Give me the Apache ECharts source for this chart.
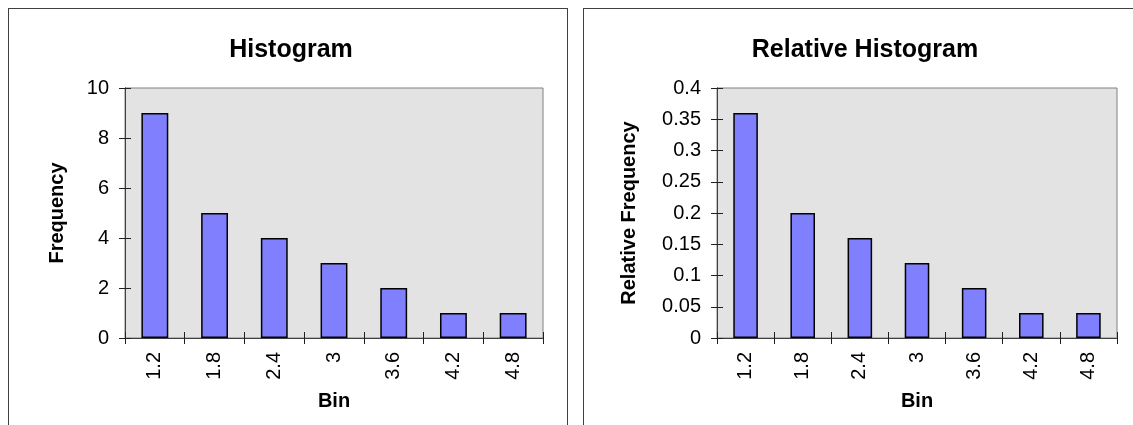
<!DOCTYPE html>
<html>
<head>
<meta charset="utf-8">
<script src="https://cdn.jsdelivr.net/npm/echarts@6/dist/echarts.min.js"></script>
<style>
  html, body { margin: 0; padding: 0; background: #ffffff; }
  #wrap { position: relative; width: 1133px; height: 425px; overflow: hidden; }
  .box { position: absolute; border: 1px solid #404040; box-sizing: border-box; }
  #chart { position: absolute; left: 0; top: 0; width: 1133px; height: 425px; }
</style>
</head>
<body>
<div id="wrap">
  <div class="box" style="left:8px; top:8px; width:560px; height:440px;"></div>
  <div class="box" style="left:583px; top:8px; width:570px; height:440px;"></div>
  <div id="chart"></div>
</div>
<script>
// ---- data ----
const bins = ['1.2', '1.8', '2.4', '3', '3.6', '4.2', '4.8'];
const frequency = [9, 5, 4, 3, 2, 1, 1];
const relativeFrequency = [0.36, 0.2, 0.16, 0.12, 0.08, 0.04, 0.04];
const titles = ['Histogram', 'Relative Histogram'];
const yNames = ['Frequency', 'Relative Frequency'];
const xName = 'Bin';

const FONT = 'Liberation Sans, Arial, sans-serif';
const axisLineColor = '#404040';
const tickColor = '#202020';

function xAxes(gridIndex) {
  const base = {
    type: 'category', data: bins, gridIndex: gridIndex, position: 'bottom',
    boundaryGap: true,
    axisLine: { show: true, lineStyle: { color: axisLineColor, width: 1 } },
    splitLine: { show: false }
  };
  return [
    Object.assign({}, base, {
      name: xName, nameLocation: 'middle', nameGap: 53,
      nameTextStyle: { fontFamily: FONT, fontSize: 20, fontWeight: 'bold', color: '#000' },
      axisTick: { show: true, inside: false, length: 6, alignWithLabel: false, lineStyle: { color: tickColor } },
      axisLabel: { rotate: 90, margin: 14, fontFamily: FONT, fontSize: 20, color: '#000' }
    }),
    Object.assign({}, base, {
      axisTick: { show: true, inside: true, length: 6, lineStyle: { color: tickColor } },
      axisLabel: { show: false }
    })
  ];
}

function yAxes(gridIndex, max, interval, nameGap) {
  const base = {
    type: 'value', gridIndex: gridIndex, min: 0, max: max, interval: interval, position: 'left',
    axisLine: { show: true, lineStyle: { color: axisLineColor, width: 1 } },
    splitLine: { show: false }
  };
  return [
    Object.assign({}, base, {
      name: yNames[gridIndex], nameLocation: 'middle', nameGap: nameGap,
      nameTextStyle: { fontFamily: FONT, fontSize: 20, fontWeight: 'bold', color: '#000' },
      axisTick: { show: true, inside: false, length: 6, lineStyle: { color: tickColor } },
      axisLabel: { margin: 16, fontFamily: FONT, fontSize: 20, color: '#000' }
    }),
    Object.assign({}, base, {
      axisTick: { show: true, inside: true, length: 6, lineStyle: { color: tickColor } },
      axisLabel: { show: false }
    })
  ];
}

const barStyle = { color: '#8080ff', borderColor: '#000000', borderWidth: 1.5 };

const chart = echarts.init(document.getElementById('chart'), null, { renderer: 'canvas' });
chart.setOption({
  animation: false,
  backgroundColor: 'transparent',
  title: [
    { text: titles[0], left: 286, top: 33, textAlign: 'center',
      textStyle: { fontFamily: FONT, fontSize: 25, fontWeight: 'bold', color: '#000' } },
    { text: titles[1], left: 860, top: 33, textAlign: 'center',
      textStyle: { fontFamily: FONT, fontSize: 25, fontWeight: 'bold', color: '#000' } }
  ],
  grid: [
    { left: 125, top: 88, width: 418, height: 250, show: true,
      backgroundColor: '#e3e3e3', borderColor: '#808080', borderWidth: 1 },
    { left: 717, top: 88, width: 400, height: 250, show: true,
      backgroundColor: '#e3e3e3', borderColor: '#808080', borderWidth: 1 }
  ],
  xAxis: [].concat(xAxes(0), xAxes(1)),
  yAxis: [].concat(yAxes(0, 10, 2, 58), yAxes(1, 0.4, 0.05, 78)),
  series: [
    { type: 'bar', xAxisIndex: 0, yAxisIndex: 0, data: frequency, barWidth: '45%', itemStyle: barStyle },
    { type: 'bar', xAxisIndex: 2, yAxisIndex: 2, data: relativeFrequency, barWidth: '43%', itemStyle: barStyle }
  ]
});
</script>
</body>
</html>
